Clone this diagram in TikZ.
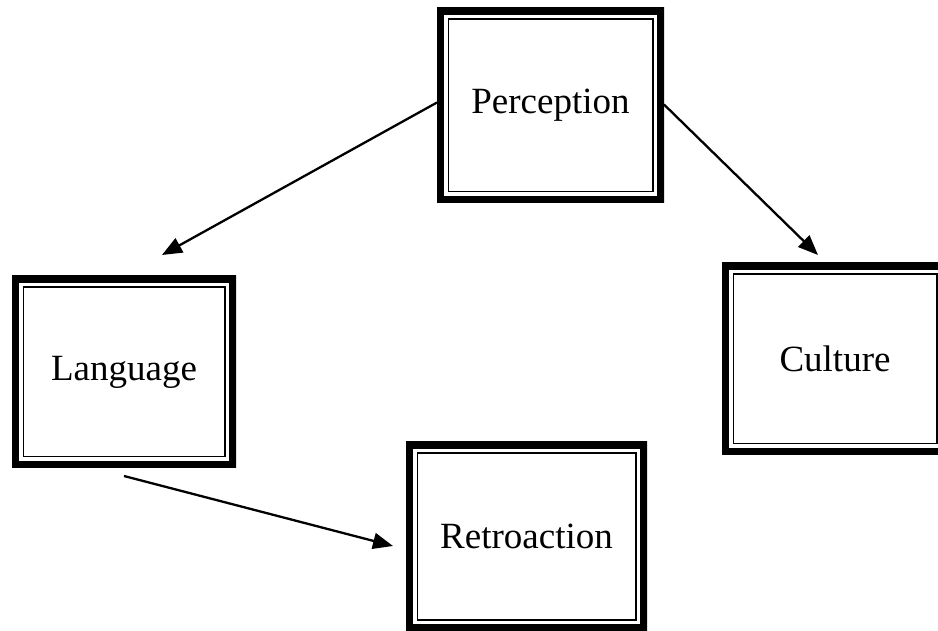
\documentclass[tikz,border=0pt]{standalone}
\usepackage{fontspec}
\setmainfont{Liberation Serif}
\usetikzlibrary{arrows.meta}
\begin{document}
\begin{tikzpicture}[x=1pt,y=1pt,
  framebox/.style={minimum width=#1, inner sep=0pt, outer sep=0pt,
    font=\fontsize{37}{44}\selectfont,
    path picture={
      \draw[line width=14pt] (path picture bounding box.north west) rectangle (path picture bounding box.south east);
      \draw[line width=1.5pt] ([shift={(11.25,-11.25)}]path picture bounding box.north west) rectangle ([shift={(-11.25,11.25)}]path picture bounding box.south east);
    }},
  conn/.style={line width=2.3pt, -{Triangle[length=20pt,width=16pt]}}]
\useasboundingbox (0,0) rectangle (938,630);
\clip (0,0) rectangle (938,630);
\fill[white] (0,0) rectangle (938,630);
\node[framebox=227pt, minimum height=195pt] (P) at (550.5,524.5) {Perception};
\node[framebox=224pt, minimum height=192pt] (L) at (124,258) {Language};
\node[framebox=226pt, minimum height=192pt] (C) at (835,271) {Culture};
\node[framebox=241pt, minimum height=189pt] (R) at (526.5,93.5) {Retroaction};
\coordinate (t1) at (162,375);
\coordinate (t2) at (818,375);
\coordinate (t3) at (393,84);
\draw[conn] ([yshift=3pt]P.west) -- (t1);
\draw[conn] ([yshift=1pt]P.east) -- (t2);
\draw[conn] ([yshift=-8pt]L.south) -- (t3);
\end{tikzpicture}
\end{document}
